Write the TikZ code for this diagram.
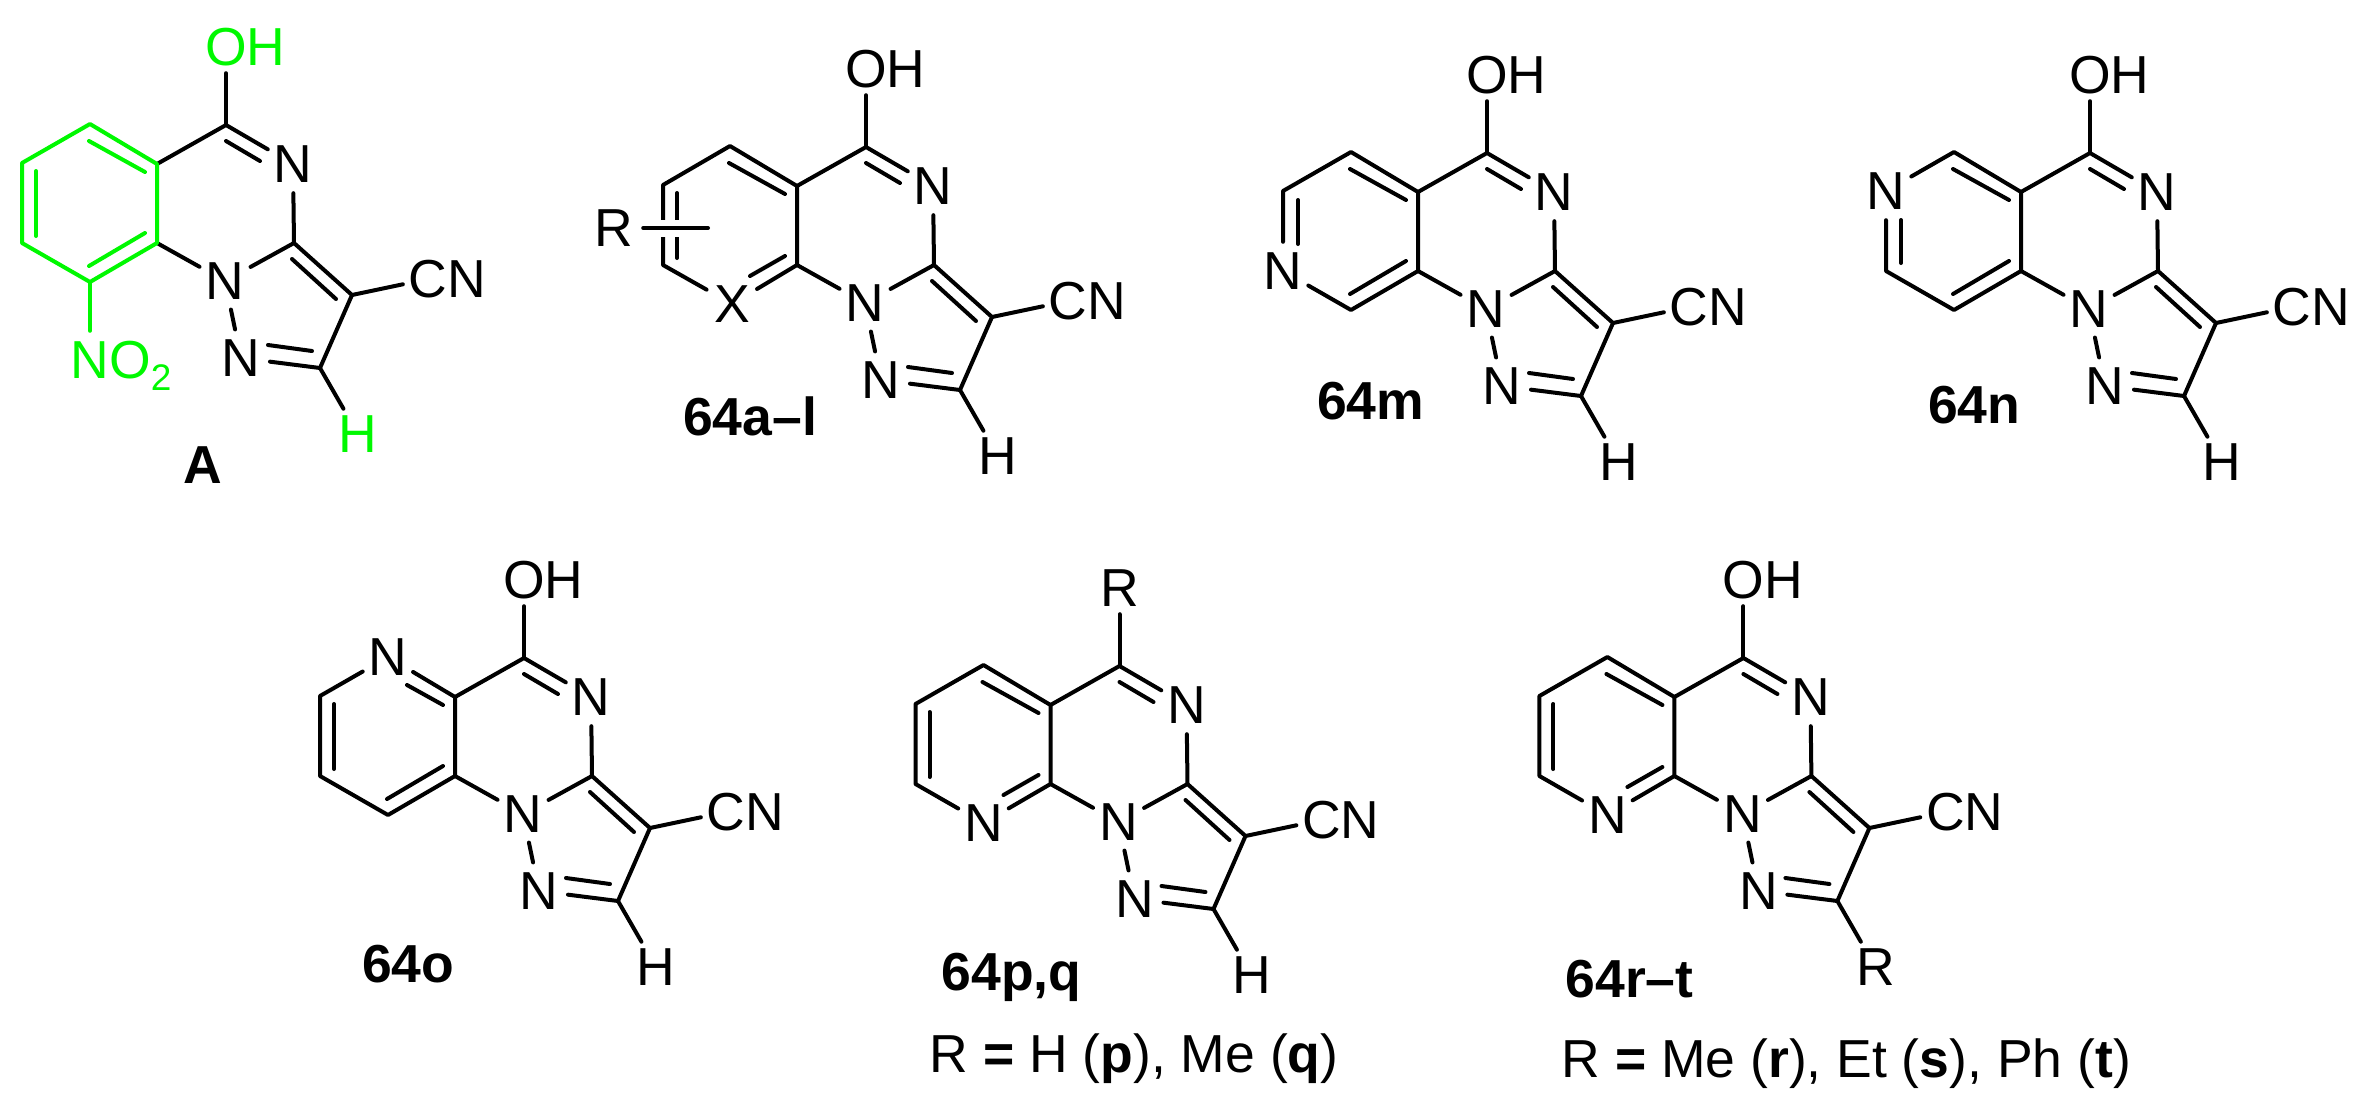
\documentclass[tikz,border=0pt]{standalone}
\usepackage{fontspec}
\setmainfont{Liberation Sans}
\definecolor{acsgreen}{HTML}{00F800}
\tikzset{
  atom/.style={circle,inner sep=0pt,minimum size=58pt,font=\fontsize{53.5}{60}\selectfont},
  lbl/.style={anchor=base west,inner sep=0pt,font=\fontsize{53.5}{60}\selectfont},
  bond/.style={line width=4pt,line cap=round,line join=round},
}
\newcommand{\ratom}[3]{\if\relax\detokenize{#3}\relax\coordinate (#1) at (#2);\else\node[atom] (#1) at (#2) {#3};\fi}
% prefix, top text, top colour, bottom text, bottom colour
\newcommand{\core}[5]{%
  \coordinate (#1ctop) at (226,125);
  \coordinate (#1c4a) at (157,164);
  \coordinate (#1c8a) at (157,243);
  \coordinate (#1c3a) at (294,243);
  \coordinate (#1c3) at (352,295);
  \coordinate (#1c2) at (320,368);
  \node[atom] (#1nb) at (293,164) {N};
  \node[atom] (#1no) at (225,281) {N};
  \node[atom] (#1nt) at (241,358) {N};
  \node[atom] (#1cn) at (428,279) {C\rlap{N}};
  \node[atom,text=#3] (#1top) at (226,47) {#2};
  \node[atom,text=#5] (#1bot) at (358,434) {#4};
  \draw[bond,shorten >=-3pt] (#1ctop) -- (#1top);
  \draw[bond] (#1c4a) -- (#1ctop) -- (#1nb);
  \draw[bond] (226,141) -- (260,161);
  \draw[bond] (#1nb) -- (#1c3a) -- (#1c3) -- (#1c2);
  \draw[bond] (#1c3a) -- (#1no);
  \draw[bond] (#1c8a) -- (#1no);
  \draw[bond] (#1no) -- (#1nt);
  \draw[bond] (292,259) -- (336,299);
  \draw[bond,shorten >=-3.5pt] (#1c3) -- (#1cn);
  \draw[bond] (#1c2) -- (#1nt);
  \draw[bond] (312,351) -- (268,345);
  \draw[bond] (#1c2) -- (#1bot);
}
% prefix, colour, atom texts at positions 5,6,7,8
\newcommand{\ring}[6]{%
  \ratom{#1c5}{90,124}{#3}
  \ratom{#1c6}{22,163}{#4}
  \ratom{#1c7}{22,243}{#5}
  \ratom{#1c8}{90,282}{#6}
  \draw[bond,#2] (#1c4a) -- (#1c5) -- (#1c6) -- (#1c7) -- (#1c8) -- (#1c8a) -- (#1c4a);
}
\newcommand{\inA}[1]{\draw[bond,#1] (89,141) -- (145,172);}
\newcommand{\inB}[1]{\draw[bond,#1] (36,171) -- (36,236);}
\newcommand{\inC}[1]{\draw[bond,#1] (89,266) -- (145,233);}
\newcommand{\inN}{\draw[bond] (145,234) -- (110,254);}
\begin{document}
\begin{tikzpicture}[x=1pt,y=-1pt]
\useasboundingbox[fill=white] (0,0) rectangle (2370,1098);

% A
\begin{scope}
  \core{a}{O\rlap{H}}{acsgreen}{H}{acsgreen}
  \ring{a}{acsgreen}{}{}{}{}
  \inA{acsgreen}\inB{acsgreen}\inC{acsgreen}
  \node[atom,text=acsgreen] (ano) at (90,360) {N\rlap{O\smash{\raisebox{-12pt}{\fontsize{37}{37}\selectfont 2}}}};
  \draw[bond,acsgreen] (ac8) -- (ano);
  \node[lbl] (alab) at (183,483) {\textbf{A}};
\end{scope}

% 64a-l
\begin{scope}[shift={(640,22)}]
  \core{b}{O\rlap{H}}{black}{H}{black}
  \ratom{bc5}{90,124}{}
  \ratom{bc6}{23,163}{}
  \ratom{bc7}{23,243}{}
  \node[atom] (bc8) at (92,282) {X};
  \draw[bond] (bc4a) -- (bc5) -- (bc6) -- (bc7) -- (bc8) -- (bc8a) -- (bc4a);
  \inA{}
  \draw[bond] (37,171) -- (37,236);
  \inN
  \node[atom] (br) at (-26,206) {R};
  \coordinate (brend) at (68,206);
  \draw[bond,preaction={draw,white,line width=17pt,line cap=butt}] (br) -- (brend);
  \node[lbl] (blab) at (43,413) {\textbf{64a–l}};
\end{scope}

% 64m
\begin{scope}[shift={(1261,28)}]
  \core{c}{O\rlap{H}}{black}{H}{black}
  \ring{c}{black}{}{}{N}{}
  \inA{}\inC{}
  \draw[bond] (37,172) -- (37,216);
  \node[lbl] (clab) at (56,391) {\textbf{64m}};
\end{scope}

% 64n
\begin{scope}[shift={(1864,28)}]
  \core{d}{O\rlap{H}}{black}{H}{black}
  \ring{d}{black}{}{N}{}{}
  \inA{}\inC{}
  \draw[bond] (37,192) -- (37,235);
  \node[lbl] (dlab) at (64,395) {\textbf{64n}};
\end{scope}

% 64o
\begin{scope}[shift={(298,533)}]
  \core{e}{O\rlap{H}}{black}{H}{black}
  \ring{e}{black}{N}{}{}{}
  \inB{}\inC{}
  \draw[bond] (145,172) -- (109,152);
  \node[lbl] (elab) at (64,449) {\textbf{64o}};
\end{scope}

% 64p,q
\begin{scope}[shift={(893.5,541)}]
  \core{f}{R}{black}{H}{black}
  \ring{f}{black}{}{}{}{N}
  \inA{}\inB{}\inN
  \node[lbl] (flab) at (48,449) {\textbf{64p,q}};
  \node[lbl] (fnote) at (36,531) {R \textbf{=} H (\textbf{p}), Me (\textbf{q})};
\end{scope}

% 64r-t
\begin{scope}[shift={(1517.4,533)}]
  \core{g}{O\rlap{H}}{black}{R}{black}
  \ring{g}{black}{}{}{}{N}
  \inA{}\inB{}\inN
  \node[lbl] (glab) at (48,464) {\textbf{64r–t}};
  \node[lbl] (gnote) at (44,544) {R \textbf{=} Me (\textbf{r}), Et (\textbf{s}), Ph (\textbf{t})};
\end{scope}
\end{tikzpicture}
\end{document}
